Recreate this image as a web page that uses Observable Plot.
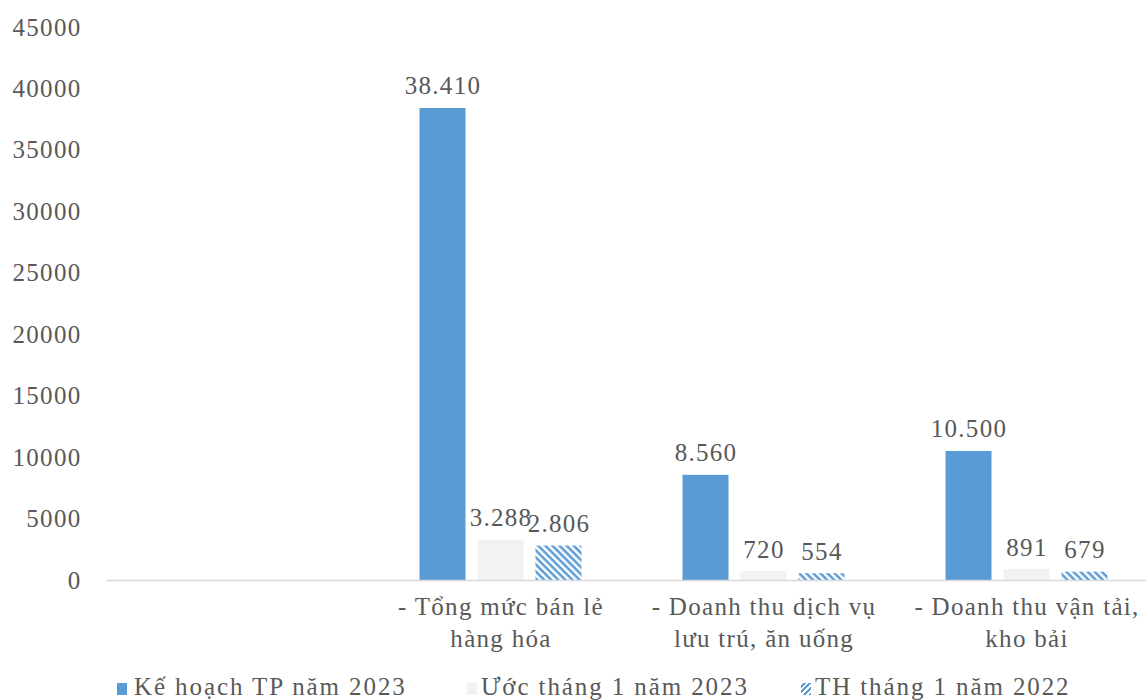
<!DOCTYPE html>
<html>
<head>
<meta charset="utf-8">
<script src="https://cdn.jsdelivr.net/npm/d3@7"></script>
<script src="https://cdn.jsdelivr.net/npm/@observablehq/plot@0.6"></script>
<style>
  html, body { margin: 0; padding: 0; background: #fff; }
  #wrap { position: relative; width: 1146px; height: 700px; overflow: hidden; font-family: "Liberation Serif", "DejaVu Serif", serif; color: #595959; }
  #legend { position: absolute; left: 0; top: 672px; width: 1146px; height: 30px; font-size: 25px; letter-spacing: 1.9px; }
  .item { position: absolute; top: 0; white-space: nowrap; line-height: 30px; }
  .sw { position: absolute; top: 11px; width: 10px; height: 12px; }
</style>
</head>
<body>
<div id="wrap">
  <div id="chart"></div>
  <div id="legend"></div>
</div>
<script>
const categories = ["", "- Tổng mức bán lẻ\nhàng hóa", "- Doanh thu dịch vụ\nlưu trú, ăn uống", "- Doanh thu vận tải,\nkho bải"];
const seriesNames = ["Kế hoạch TP năm 2023", "Ước tháng 1 năm 2023", "TH tháng 1 năm 2022"];
const keHoach2023 = [null, 38410, 8560, 10500];
const uocThang1_2023 = [null, 3288, 720, 891];
const thThang1_2022 = [null, 2806, 554, 679];
const yTicks = [0, 5000, 10000, 15000, 20000, 25000, 30000, 35000, 40000, 45000];

const seriesValues = [keHoach2023, uocThang1_2023, thThang1_2022];
const fills = ["#5b9bd5", "#f2f2f2", "url(#hatch)"];
const offsets = [-58, 0, 58];

const rows = [];
seriesValues.forEach((vals, si) => {
  vals.forEach((v, ci) => {
    if (v != null) rows.push({category: categories[ci], series: seriesNames[si], value: v});
  });
});

const viFmt = d3.formatLocale({decimal: ",", thousands: ".", grouping: [3], currency: ["", ""]}).format(",d");

const marks = [];
seriesNames.forEach((s, si) => {
  const data = rows.filter(r => r.series === s);
  marks.push(Plot.barY(data, {x: "category", y: "value", fill: fills[si], dx: offsets[si], insetLeft: 108.5, insetRight: 108.5}));
});
marks.push(Plot.ruleY([0], {stroke: "#d9d9d9", strokeWidth: 1.5}));
seriesNames.forEach((s, si) => {
  const data = rows.filter(r => r.series === s);
  marks.push(Plot.text(data, {x: "category", y: "value", text: d => viFmt(d.value), dx: offsets[si], dy: -22, fill: "#595959"}));
});
marks.push(Plot.axisY({ticks: yTicks, tickFormat: d3.format("d"), tickSize: 0, tickPadding: 25, label: null}));
marks.push(Plot.axisX({tickSize: 0, tickPadding: 12, label: null, lineHeight: 1.28}));

const chart = Plot.plot({
  width: 1146,
  height: 660,
  marginLeft: 106,
  marginRight: 0,
  marginTop: 27,
  marginBottom: 80,
  style: {fontFamily: "Liberation Serif, DejaVu Serif, serif", fontSize: "25px", color: "#595959", letterSpacing: "1.3px", background: "#fff", overflow: "visible"},
  x: {domain: categories, range: [106, 1158], padding: 0},
  y: {domain: [0, 45000], range: [580, 27]},
  marks
});

const defs = d3.select(chart).insert("defs", ":first-child");
const pat = defs.append("pattern").attr("id", "hatch").attr("patternUnits", "userSpaceOnUse")
  .attr("width", 5).attr("height", 5).attr("patternTransform", "rotate(45)");
pat.append("rect").attr("width", 5).attr("height", 5).attr("fill", "#fff");
pat.append("rect").attr("x", 0).attr("y", 0).attr("width", 5).attr("height", 2.5).attr("fill", "#5b9bd5");

document.getElementById("chart").appendChild(chart);

// legend
const legendPos = [{sw: 117, tx: 134}, {sw: 467, tx: 481}, {sw: 801, tx: 815}];
const legend = document.getElementById("legend");
seriesNames.forEach((s, i) => {
  const sw = document.createElement("div");
  sw.className = "sw";
  sw.style.left = legendPos[i].sw + "px";
  if (i === 2) {
    sw.style.background = "repeating-linear-gradient(-45deg, #5b9bd5 0 2px, #fff 2px 4px)";
  } else {
    sw.style.background = fills[i];
  }
  legend.appendChild(sw);
  const t = document.createElement("div");
  t.className = "item";
  t.style.left = legendPos[i].tx + "px";
  t.textContent = s;
  legend.appendChild(t);
});
</script>
</body>
</html>
